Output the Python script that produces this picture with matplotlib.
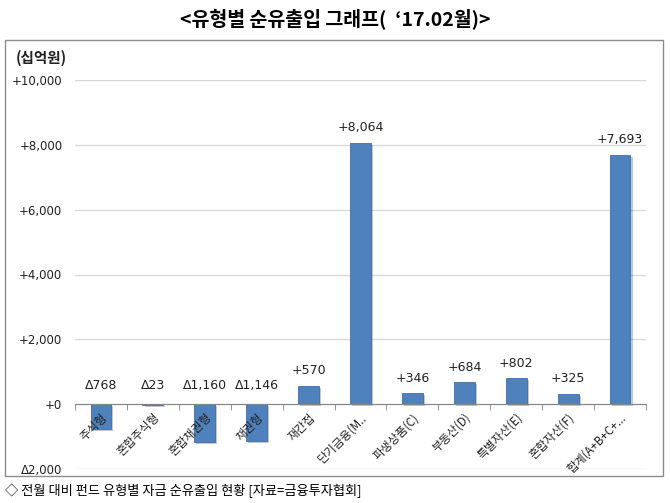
import matplotlib
matplotlib.use("Agg")
import matplotlib.pyplot as plt
import matplotlib.patheffects as pe
from matplotlib.patches import Rectangle
from matplotlib.ticker import FixedLocator, FuncFormatter
import numpy as np

plt.rcParams["font.family"] = ["Noto Sans CJK KR", "DejaVu Sans"]

# ---- data -------------------------------------------------------------
categories = ["주식형", "혼합주식형", "혼합채권형", "채권형", "재간접",
              "단기금융(M..", "파생상품(C)", "부동산(D)", "특별자산(E)",
              "혼합자산(F)", "합계(A+B+C+..."]
values = [-768, -23, -1160, -1146, 570, 8064, 346, 684, 802, 325, 7693]
y_ticks = [-2000, 0, 2000, 4000, 6000, 8000, 10000]

BAR = "#4f81bd"
BAR_EDGE = "#3f6ea5"
GRID = "#d9d9d9"
AXIS = "#868686"
TEXT = "#222222"
NUM_FONT = ["DejaVu Sans", "Noto Sans CJK KR"]


def fmt(v, _=None):
    v = int(round(v))
    return f"+{v:,}" if v >= 0 else f"\u0394{abs(v):,}"


fig = plt.figure(figsize=(6.7, 5.03), dpi=100)

# outer frame around the chart
fig.patches.append(Rectangle((5 / 670, 1 - 476 / 503), 658 / 670, 436 / 503,
                             transform=fig.transFigure, fill=False,
                             edgecolor="#8c8c8c", linewidth=1.0))

ax = fig.add_axes([75 / 670, 1 - 469 / 503, 571 / 670, 389 / 503])
x = np.arange(len(categories))
bars = ax.bar(x, values, width=0.4, color=BAR, edgecolor=BAR_EDGE,
              linewidth=0.6, zorder=2)
for b in bars:
    b.set_path_effects([pe.SimplePatchShadow(offset=(1.5, -1.5), alpha=0.25),
                        pe.Normal()])

ax.set_xlim(-0.5, len(categories) - 0.5)
ax.set_ylim(-2000, 10000)
ax.yaxis.set_major_locator(FixedLocator(y_ticks))
ax.yaxis.set_major_formatter(FuncFormatter(fmt))
ax.grid(axis="y", color=GRID, linewidth=1.0)
ax.set_axisbelow(True)
ax.xaxis.set_zorder(3)  # category labels sit on top of the negative bars
for lab in ax.get_yticklabels():
    lab.set_fontfamily(NUM_FONT)
ax.tick_params(axis="y", length=0, labelsize=8.5, pad=9, labelcolor=TEXT)

for s in ("top", "right", "left"):
    ax.spines[s].set_visible(False)
ax.spines["bottom"].set_position(("data", 0))
ax.spines["bottom"].set_color(AXIS)
ax.spines["bottom"].set_zorder(3)

ax.set_xticks(x)
ax.set_xticklabels(categories, rotation=45, ha="right",
                   rotation_mode="anchor", fontsize=8.5, color=TEXT)
ax.set_xticks(np.arange(-0.5, len(categories), 1), minor=True)
ax.tick_params(axis="x", which="major", length=0, pad=5)
ax.tick_params(axis="x", which="minor", length=4, color=AXIS, direction="out")

# data labels
for xi, v in zip(x, values):
    ypos = v if v > 0 else 0
    ax.annotate(fmt(v), (xi, ypos), xytext=(0, 6 if v > 0 else 9),
                textcoords="offset points", ha="center", va="bottom",
                fontsize=9, family=NUM_FONT, color=TEXT, zorder=4)

fig.text(0.5, 1 - 20 / 503, "<유형별 순유출입 그래프(  \u201817.02월)>",
         ha="center", va="center", fontsize=14, fontweight="bold")
fig.text(16 / 670, 1 - 58 / 503, "(십억원)", ha="left", va="center",
         fontsize=10.5, fontweight="bold", color=TEXT)
fig.text(5 / 670, 1 - 491 / 503,
         "◇ 전월 대비 펀드 유형별 자금 순유출입 현황 [자료=금융투자협회]",
         ha="left", va="center", fontsize=9.5,
         family=["Noto Sans CJK KR", "DejaVu Sans"])

fig.savefig("out.png", dpi=100)
